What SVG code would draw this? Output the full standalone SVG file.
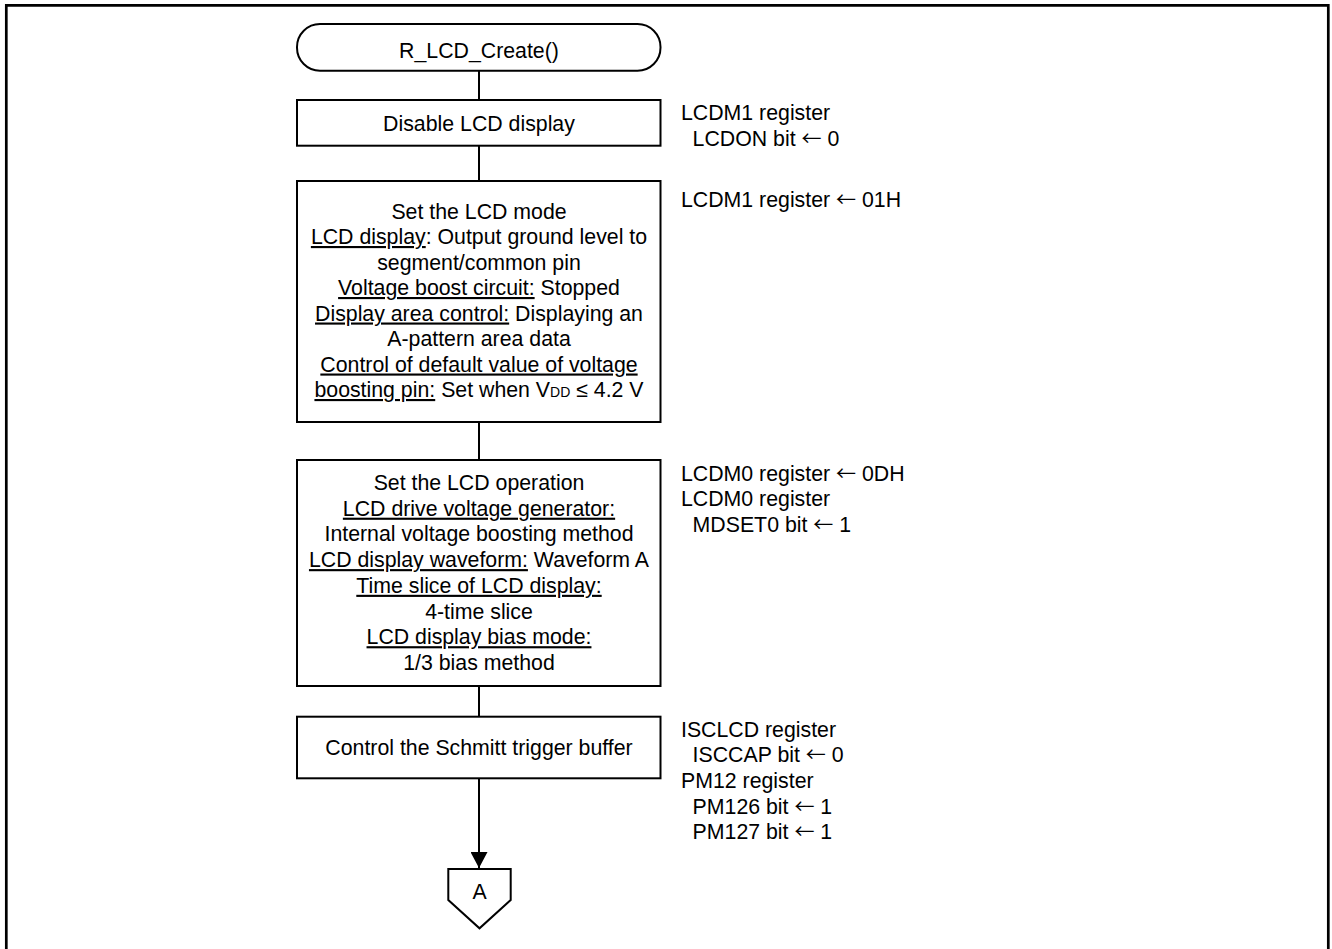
<svg xmlns="http://www.w3.org/2000/svg" width="1332" height="949" viewBox="0 0 1332 949">
<style>
text{font-family:"Liberation Sans",Arial,sans-serif;font-size:21.3px;fill:#000}
.c{text-anchor:middle}
.n{fill:#fff;stroke:#000;stroke-width:2}
.l{stroke:#000;stroke-width:2;fill:none}
.u{text-decoration:underline}
.a{font-family:"Noto Sans CJK JP","DejaVu Sans",sans-serif;font-size:20px}
</style>
<defs>
<marker id="ah" viewBox="0 0 16 17" refX="16" refY="8.5" markerWidth="16" markerHeight="17" markerUnits="userSpaceOnUse" orient="auto">
<path d="M0,0 L16,8.5 L0,17 z" fill="#000"/>
</marker>
</defs>
<rect x="0" y="0" width="1332" height="949" fill="#fff"/>
<path d="M6.3,960 V5.3 H1328.3 V960" fill="none" stroke="#000" stroke-width="2.7"/>

<g id="connectors">
<line class="l" x1="479" y1="70.7" x2="479" y2="100"/>
<line class="l" x1="479" y1="145.7" x2="479" y2="181"/>
<line class="l" x1="479" y1="422" x2="479" y2="460"/>
<line class="l" x1="479" y1="686" x2="479" y2="716.7"/>
<line class="l" x1="479" y1="778.3" x2="479" y2="868" marker-end="url(#ah)"/>
</g>

<g id="start">
<rect class="n" x="297" y="24" width="363.5" height="46.7" rx="23" ry="23"/>
<text class="c" x="479" y="57.5">R_LCD_Create()</text>
</g>

<g id="disable">
<rect class="n" x="297" y="100" width="363.5" height="45.7"/>
<text class="c" x="479" y="130.5">Disable LCD display</text>
</g>

<g id="mode">
<rect class="n" x="297" y="181" width="363.5" height="241"/>
<text class="c" x="479" y="218.5">Set the LCD mode</text>
<text class="c" x="479" y="244"><tspan class="u">LCD display</tspan>: Output ground level to</text>
<text class="c" x="479" y="269.5">segment/common pin</text>
<text class="c" x="479" y="295"><tspan class="u">Voltage boost circuit:</tspan> Stopped</text>
<text class="c" x="479" y="320.5"><tspan class="u">Display area control:</tspan> Displaying an</text>
<text class="c" x="479" y="346">A-pattern area data</text>
<text class="c" x="479" y="371.5"><tspan class="u">Control of default value of voltage</tspan></text>
<text class="c" x="479" y="397"><tspan class="u">boosting pin:</tspan> Set when V<tspan font-size="14">DD</tspan> ≤ 4.2 V</text>
</g>

<g id="operation">
<rect class="n" x="297" y="460" width="363.5" height="226"/>
<text class="c" x="479" y="490">Set the LCD operation</text>
<text class="c" x="479" y="515.7"><tspan class="u">LCD drive voltage generator:</tspan></text>
<text class="c" x="479" y="541.4">Internal voltage boosting method</text>
<text class="c" x="479" y="567.1"><tspan class="u">LCD display waveform:</tspan> Waveform A</text>
<text class="c" x="479" y="592.8"><tspan class="u">Time slice of LCD display:</tspan></text>
<text class="c" x="479" y="618.5">4-time slice</text>
<text class="c" x="479" y="644.2"><tspan class="u">LCD display bias mode:</tspan></text>
<text class="c" x="479" y="669.9">1/3 bias method</text>
</g>

<g id="schmitt">
<rect class="n" x="297" y="716.7" width="363.5" height="61.6"/>
<text class="c" x="479" y="755">Control the Schmitt trigger buffer</text>
</g>

<g id="offpage-A">
<polygon class="n" points="448.3,869 510.7,869 510.7,900 479.5,928.3 448.3,900"/>
<text class="c" x="479.5" y="899">A</text>
</g>

<g id="notes">
<text x="681" y="120">LCDM1 register</text>
<text x="692.6" y="146">LCDON bit <tspan class="a">←</tspan> 0</text>
<text x="681" y="207">LCDM1 register <tspan class="a">←</tspan> 01H</text>
<text x="681" y="480.5">LCDM0 register <tspan class="a">←</tspan> 0DH</text>
<text x="681" y="506">LCDM0 register</text>
<text x="692.6" y="531.5">MDSET0 bit <tspan class="a">←</tspan> 1</text>
<text x="681" y="736.5">ISCLCD register</text>
<text x="692.6" y="762.2">ISCCAP bit <tspan class="a">←</tspan> 0</text>
<text x="681" y="787.9">PM12 register</text>
<text x="692.6" y="813.6">PM126 bit <tspan class="a">←</tspan> 1</text>
<text x="692.6" y="839.3">PM127 bit <tspan class="a">←</tspan> 1</text>
</g>
</svg>
